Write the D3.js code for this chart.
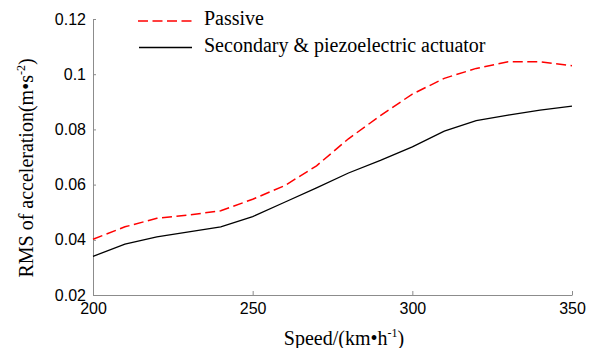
<!DOCTYPE html>
<html>
<head>
<meta charset="utf-8">
<script src="https://cdn.jsdelivr.net/npm/d3@7"></script>
<style>
  body { margin: 0; background: #fff; }
  svg { display: block; }
</style>
</head>
<body>
<svg id="chart" width="599" height="348"></svg>
<script>
'use strict';

const speeds = [200, 210, 220, 230, 240, 250, 260, 270, 280, 290, 300, 310, 320, 330, 340, 350];
const passive = [0.0402, 0.0447, 0.0478, 0.0490, 0.0505, 0.0547, 0.0596, 0.0668, 0.0766, 0.0850, 0.0928, 0.0985, 0.1021, 0.1045, 0.1045, 0.1031];
const actuator = [0.0340, 0.0384, 0.0411, 0.0429, 0.0447, 0.0484, 0.0536, 0.0588, 0.0642, 0.0688, 0.0737, 0.0794, 0.0832, 0.0852, 0.0870, 0.0884];
const xTicks = [200, 250, 300, 350];
const yTicks = [0.02, 0.04, 0.06, 0.08, 0.1, 0.12];
const seriesNames = ['Passive', 'Secondary & piezoelectric actuator'];

const serif = "'Liberation Serif', 'DejaVu Serif', 'Times New Roman', serif";
const sans = "'Liberation Sans', Arial, sans-serif";

const svg = d3.select('#chart');

const x = d3.scaleLinear().domain([200, 350]).range([93, 572]);
const y = d3.scaleLinear().domain([0.02, 0.12]).range([295, 19]);

// axes (ticks inward, grey lines)
const xAxis = svg.append('g')
  .attr('transform', `translate(0,${y.range()[0]})`)
  .call(d3.axisBottom(x).tickValues(xTicks).tickSizeInner(-4).tickSizeOuter(0)
    .tickFormat(d3.format('d')));
xAxis.selectAll('.tick text').attr('y', 8).attr('dy', '0.71em');

const yAxis = svg.append('g')
  .attr('transform', `translate(${x.range()[0]},0)`)
  .call(d3.axisLeft(y).tickValues(yTicks).tickSizeInner(-3).tickSizeOuter(0)
    .tickFormat(d => String(+d.toFixed(2))));
yAxis.selectAll('.tick text').attr('x', -7);

svg.selectAll('.tick text')
  .attr('font-family', sans).attr('font-size', 16).attr('fill', '#000');
svg.selectAll('.domain, .tick line').attr('stroke', '#8c8c8c').attr('stroke-width', 1);

const line = vals => d3.line()
  .x((d, i) => x(speeds[i]))
  .y(d => y(d))(vals);

svg.append('path')
  .attr('d', line(passive))
  .attr('fill', 'none')
  .attr('stroke', '#ff0000')
  .attr('stroke-width', 1.5)
  .attr('stroke-dasharray', '10,4.5');

svg.append('path')
  .attr('d', line(actuator))
  .attr('fill', 'none')
  .attr('stroke', '#000')
  .attr('stroke-width', 1.3);

// legend
const legend = svg.append('g');
legend.append('line')
  .attr('x1', 138).attr('x2', 192).attr('y1', 21).attr('y2', 21)
  .attr('stroke', '#ff0000').attr('stroke-width', 1.5)
  .attr('stroke-dasharray', '10,4.5');
legend.append('line')
  .attr('x1', 139).attr('x2', 192).attr('y1', 47.5).attr('y2', 47.5)
  .attr('stroke', '#000').attr('stroke-width', 1.3);

function label(sel) {
  return sel.append('text')
    .attr('font-family', serif).attr('font-size', 20).attr('fill', '#000');
}

label(legend).attr('x', 204).attr('y', 25).text(seriesNames[0]);
label(legend).attr('x', 204).attr('y', 52).text(seriesNames[1]);

// axis titles
const xt = label(svg).attr('x', 344).attr('y', 345).attr('text-anchor', 'middle');
xt.append('tspan').text('Speed/(km\u2022h');
xt.append('tspan').attr('dy', -8).attr('font-size', 12).text('-1');
xt.append('tspan').attr('dy', 8).text(')');

const yt = label(svg)
  .attr('transform', 'translate(33,168) rotate(-90)')
  .attr('text-anchor', 'middle');
yt.append('tspan').text('RMS of acceleration(m\u2022s');
yt.append('tspan').attr('dy', -8).attr('font-size', 12).text('-2');
yt.append('tspan').attr('dy', 8).text(')');
</script>
</body>
</html>
